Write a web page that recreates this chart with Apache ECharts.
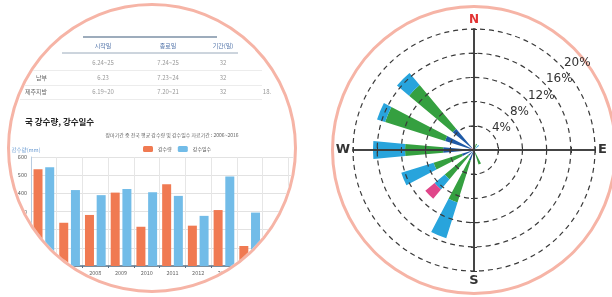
<!DOCTYPE html>
<html>
<head>
<meta charset="utf-8">
<script src="https://cdn.jsdelivr.net/npm/echarts@6.0.0/dist/echarts.min.js"></script>
<style>
  html, body { margin: 0; padding: 0; background: #fff; }
  #wrap { position: relative; width: 612px; height: 297px; overflow: hidden; }
  #leftRing {
    position: absolute; left: 7px; top: 3px; width: 290px; height: 290px;
    box-sizing: border-box; border: 3px solid #f6b4a6; border-radius: 50%; overflow: hidden;
  }
  #rainChart { position: absolute; left: -10px; top: -6px; width: 612px; height: 297px; }
  #rightRing {
    position: absolute; left: 331px; top: 5px; width: 286px; height: 290px;
    box-sizing: border-box; border: 3px solid #f6b4a6; border-radius: 50%;
  }
  #windChart { position: absolute; left: 306px; top: 0; width: 306px; height: 297px; }
</style>
</head>
<body>
<div id="wrap">
  <div id="leftRing"><div id="rainChart"></div></div>
  <div id="rightRing"></div>
  <div id="windChart"></div>
</div>
<script>
// 장마 시작/종료 표
const tableHeader = ['시작일', '종료일', '기간(일)']
const rowNames = ['', '남부', '제주지방']
const startDates = ['6.24~25', '6.23', '6.19~20']
const endDates = ['7.24~25', '7.23~24', '7.20~21']
const periods = ['32', '32', '32']
const extraCol = ['', '', '18.']

// 장마기간 중 전국 평균 강수량 및 강수일수 (2006~2016)
const years = ['2006', '2007', '2008', '2009', '2010', '2011', '2012', '2013', '2014', '2015', '2016']
const rainfall = [532, 238, 281, 404, 216, 450, 222, 308, 110, 160, 330]
const rainDays = [27.2, 20.9, 19.5, 21.2, 20.3, 19.3, 13.8, 24.6, 14.7, 11.5, 19]

// 바람장미 (%)
const directions = ['N', 'NNE', 'NE', 'ENE', 'E', 'ESE', 'SE', 'SSE', 'S', 'SSW', 'SW', 'WSW', 'W', 'WNW', 'NW', 'NNW']
const windRed = [0, 0, 0, 0, 0, 0, 0, 0, 0, 0.3, 0.3, 0.3, 1.0, 0.6, 0.4, 0]
const windDarkBlue = [0, 0.3, 0, 0, 0, 0, 0, 0.5, 1.2, 1.5, 1.0, 1.8, 4.1, 4.4, 4.2, 0.3]
const windGreen = [0.8, 0.8, 0.3, 0, 0, 0, 0, 2.0, 0, 7.3, 5.0, 4.9, 6.3, 10.4, 9.4, 0]
const windLightBlue = [0, 0, 0.8, 0, 0, 0, 0, 0, 0, 6.2, 2.2, 5.6, 5.3, 1.4, 2.6, 0]
const windPink = [0, 0, 0, 0, 0, 0, 0, 0, 0, 0, 2.0, 0, 0, 0, 0, 0]
const ringTicks = [4, 8, 12, 16, 20]

// ---------- 왼쪽 원 : 표 + 막대그래프 ----------
const rainChart = echarts.init(document.getElementById('rainChart'))

const colX = [47, 103, 168, 223, 267]
const rowY = [63, 78, 92]
const tableGraphic = []
// 표 윗선, 머리글 아랫선
tableGraphic.push({ type: 'line', shape: { x1: 83, y1: 37, x2: 217, y2: 37 }, style: { stroke: '#7d91a6', lineWidth: 1.5 } })
tableGraphic.push({ type: 'line', shape: { x1: 62, y1: 53, x2: 238, y2: 53 }, style: { stroke: '#9aaabb', lineWidth: 1 } })
tableHeader.forEach((h, i) => {
  tableGraphic.push({
    type: 'text', x: colX[i + 1], y: 46,
    style: { text: h, fill: '#4f72a8', font: '6px "Noto Sans CJK KR"', align: 'center', verticalAlign: 'middle' }
  })
})
rowY.forEach((y, r) => {
  const cells = [rowNames[r], startDates[r], endDates[r], periods[r], extraCol[r]]
  cells.forEach((c, i) => {
    tableGraphic.push({
      type: 'text', x: colX[i], y: y,
      style: { text: c, fill: i === 0 ? '#666' : '#999', font: '6px "Noto Sans CJK KR"', align: i === 0 ? 'right' : 'center', verticalAlign: 'middle' }
    })
  })
  tableGraphic.push({ type: 'line', shape: { x1: 20, y1: y + 7.5, x2: 262, y2: y + 7.5 }, style: { stroke: '#ececec', lineWidth: 1 } })
})

rainChart.setOption({
  animation: false,
  textStyle: { fontFamily: '"Noto Sans CJK KR", "Noto Sans", sans-serif' },
  title: [
    {
      text: '국 강수량, 강수일수', left: 20, top: 113,
      textStyle: { fontSize: 8.5, fontWeight: 'bold', color: '#222' }
    },
    {
      text: '장마기간 중 전국 평균 강수량 및 강수일수 자료기간 : 2006~2016', left: 167, top: 128, textAlign: 'center',
      textStyle: { fontSize: 5, fontWeight: 'normal', color: '#666' }
    }
  ],
  legend: {
    left: 138, top: 141, itemWidth: 10, itemHeight: 6, itemGap: 6,
    textStyle: { fontSize: 5, color: '#555' },
    data: ['강수량', '강수일수']
  },
  grid: { left: 31, right: 298, top: 157, bottom: 31 },
  xAxis: {
    type: 'category', data: years,
    axisLine: { lineStyle: { color: '#5a7187', width: 1.5 } },
    axisTick: { show: true, length: 2, lineStyle: { color: '#5a7187' } },
    axisLabel: { fontSize: 5.5, color: '#666', margin: 4 },
    splitLine: { show: true, lineStyle: { color: '#e6e6e6' } }
  },
  yAxis: [
    {
      type: 'value', min: 0, max: 600, interval: 100,
      name: '강수량(mm)', nameLocation: 'end', nameGap: 4,
      nameTextStyle: { fontSize: 5.5, color: '#6a9bd1', padding: [0, 10, 0, 0] },
      axisLine: { show: true, lineStyle: { color: '#b7cbe0' } },
      axisLabel: { fontSize: 5.5, color: '#555', margin: 4 },
      splitLine: { lineStyle: { color: '#e2e2e2' } }
    },
    { type: 'value', min: 0, max: 30, interval: 5, show: false, splitLine: { show: false } }
  ],
  series: [
    { name: '강수량', type: 'bar', data: rainfall, barWidth: 9, barGap: '30%', itemStyle: { color: '#f07a52' } },
    { name: '강수일수', type: 'bar', yAxisIndex: 1, data: rainDays, barWidth: 9, itemStyle: { color: '#72bce8' } }
  ],
  graphic: tableGraphic
})

// ---------- 오른쪽 원 : 바람장미 ----------
const windChart = echarts.init(document.getElementById('windChart'))
const roseCenter = [168, 150]
const roseRadius = 121
const compassLabels = { N: '{n|N}', E: '{d|E}', S: '{d|S}', W: '{d|W}' }

const windSeries = [
  ['red', windRed, '#e23a3a'],
  ['darkBlue', windDarkBlue, '#1f5aa6'],
  ['green', windGreen, '#35a040'],
  ['lightBlue', windLightBlue, '#28a4dc'],
  ['pink', windPink, '#e0468a']
].map(([name, data, color]) => ({
  name: name, type: 'bar', coordinateSystem: 'polar', polarIndex: 0, stack: 'wind',
  data: data, barCategoryGap: '55%', itemStyle: { color: color }, z: 2
}))

const crossAxis = (position) => ({
  type: 'value', min: -20, max: 20, interval: 4, position: position, z: 6,
  axisLine: { onZero: true, lineStyle: { color: '#3a3a3a', width: 1.5 } },
  axisTick: { show: true, length: 3, lineStyle: { color: '#3a3a3a' } },
  axisLabel: { show: false }, splitLine: { show: false }
})

windChart.setOption({
  animation: false,
  textStyle: { fontFamily: '"DejaVu Sans", sans-serif' },
  polar: [
    { center: roseCenter, radius: roseRadius },
    { center: roseCenter, radius: roseRadius }
  ],
  angleAxis: [
    {
      polarIndex: 0, type: 'category', data: directions, startAngle: 90 + 360 / 32, clockwise: true,
      axisLine: { show: false }, axisTick: { show: false }, splitLine: { show: false },
      axisLabel: {
        margin: 3,
        formatter: v => compassLabels[v] || '',
        rich: {
          n: { color: '#e23232', fontSize: 12, fontWeight: 'bold' },
          d: { color: '#333', fontSize: 13, fontWeight: 'bold' }
        }
      }
    },
    {
      polarIndex: 1, type: 'value', min: 0, max: 360, startAngle: 42,
      axisLine: { show: false }, axisTick: { show: false }, axisLabel: { show: false }, splitLine: { show: false }
    }
  ],
  radiusAxis: [
    {
      polarIndex: 0, min: 0, max: 20, interval: 4, z: 5,
      axisLine: { show: false }, axisTick: { show: false }, axisLabel: { show: false },
      splitLine: { show: true, lineStyle: { type: [5, 4], color: '#3a3a3a', width: 1.2 } }
    },
    {
      polarIndex: 1, min: 0, max: 20, interval: 4, z: 5,
      axisLine: { show: false }, axisTick: { show: false }, splitLine: { show: false },
      axisLabel: {
        margin: 0, align: 'left', verticalAlign: 'bottom', fontSize: 12, color: '#333',
        formatter: v => (ringTicks.indexOf(v) >= 0 ? v + '%' : '')
      }
    }
  ],
  // 동서/남북 십자선
  grid: { left: roseCenter[0] - roseRadius, top: roseCenter[1] - roseRadius, width: roseRadius * 2, height: roseRadius * 2 },
  xAxis: [crossAxis('bottom'), crossAxis('top')],
  yAxis: [crossAxis('left'), crossAxis('right')],
  series: windSeries
})
</script>
</body>
</html>
